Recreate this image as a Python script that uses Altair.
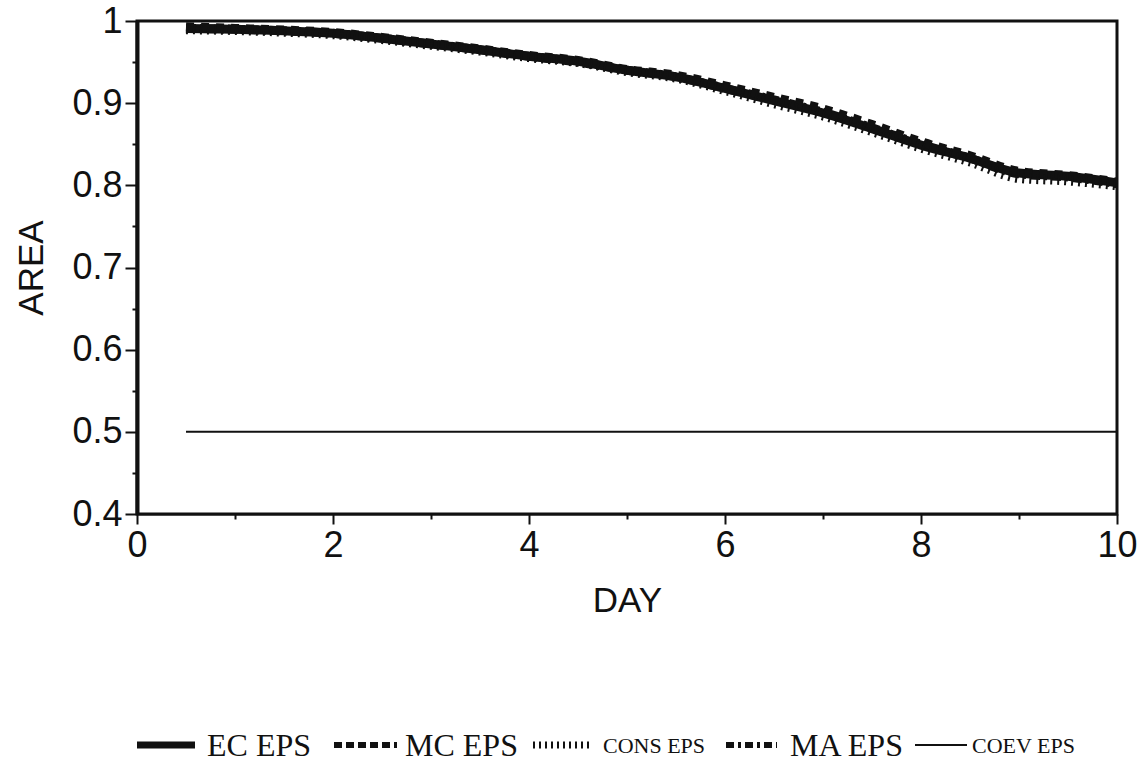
import altair as alt
import pandas as pd

# Forecast area over the 10-day range for each ensemble method
day = [0.5, 1.0, 1.5, 2.0, 2.5, 3.0, 3.5, 4.0, 4.5, 5.0,
       5.5, 6.0, 6.5, 7.0, 7.5, 8.0, 8.5, 9.0, 9.5, 10.0]
ec_eps = [0.991, 0.990, 0.988, 0.985, 0.979, 0.972, 0.965, 0.957, 0.951, 0.940,
          0.932, 0.918, 0.903, 0.888, 0.869, 0.849, 0.833, 0.815, 0.811, 0.803]
mc_eps = [0.993, 0.991, 0.989, 0.986, 0.980, 0.973, 0.966, 0.958, 0.952, 0.941,
          0.934, 0.921, 0.907, 0.893, 0.874, 0.853, 0.836, 0.817, 0.812, 0.804]
cons_eps = [0.990, 0.989, 0.987, 0.984, 0.978, 0.971, 0.964, 0.956, 0.950, 0.939,
            0.931, 0.916, 0.900, 0.885, 0.866, 0.846, 0.829, 0.809, 0.806, 0.800]
ma_eps = [0.991, 0.990, 0.988, 0.985, 0.979, 0.972, 0.965, 0.957, 0.950, 0.940,
          0.932, 0.918, 0.904, 0.889, 0.870, 0.850, 0.833, 0.814, 0.810, 0.802]
coev_day = [0.5, 10.0]
coev_eps = [0.5, 0.5]

INK = "#111111"

x_scale = alt.Scale(domain=[0, 10], nice=False)
y_scale = alt.Scale(domain=[0.4, 1.0], nice=False, zero=False)

x_axis = alt.Axis(
    title="DAY",
    values=list(range(0, 11)),
    labelExpr="datum.value % 2 == 0 ? datum.label : ''",
    tickSize={"condition": {"test": "datum.value % 2 == 0", "value": 10}, "value": 5},
    tickWidth=2,
    tickColor=INK,
    domainColor=INK,
    domainWidth=2,
    labelFont="Liberation Sans",
    labelFontSize=36,
    labelColor=INK,
    labelPadding=4,
    labelFlush=False,
    titleFont="Liberation Sans",
    titleFontSize=35,
    titleFontWeight="normal",
    titleColor=INK,
    titlePadding=20,
    grid=False,
)

y_axis = alt.Axis(
    title="AREA",
    values=[0.4, 0.45, 0.5, 0.55, 0.6, 0.65, 0.7, 0.75, 0.8, 0.85, 0.9, 0.95, 1.0],
    labelExpr=(
        "round(datum.value * 100) % 10 == 0 ? "
        "(datum.value == 1 ? '1' : format(datum.value, '.1f')) : ''"
    ),
    tickSize={"condition": {"test": "round(datum.value * 100) % 10 == 0", "value": 12},
              "value": 5},
    tickWidth=2,
    tickColor=INK,
    domainColor=INK,
    domainWidth=4,
    labelFont="Liberation Sans",
    labelFontSize=36,
    labelColor=INK,
    labelPadding=3,
    labelFlush=False,
    titleFont="Liberation Sans",
    titleFontSize=35,
    titleFontWeight="normal",
    titleColor=INK,
    titlePadding=22,
    grid=False,
)


def series_frame(xs, ys):
    return pd.DataFrame({"day": xs, "area": ys})


def curve(xs, ys, width, dash=None):
    kwargs = dict(color=INK, strokeWidth=width, interpolate="monotone")
    if dash:
        kwargs["strokeDash"] = dash
    return alt.Chart(series_frame(xs, ys)).mark_line(**kwargs).encode(
        x=alt.X("day:Q", scale=x_scale, axis=x_axis),
        y=alt.Y("area:Q", scale=y_scale, axis=y_axis),
    )


lines = [
    curve(coev_day, coev_eps, 2),
    curve(day, ec_eps, 9),
    curve(day, ma_eps, 9, dash=[10, 4, 3, 4]),
    curve(day, mc_eps, 9, dash=[8, 7]),
    curve(day, cons_eps, 10, dash=[2, 5]),
]

# Hand-built legend row beneath the plot (pixel offsets from the plot origin)
legend_entries = [
    # label, swatch start, swatch end, swatch width, dash, text start, font size
    ("EC EPS", 0, 58, 7, None, 70, 32),
    ("MC EPS", 197, 260, 6, [8, 4], 268, 32),
    ("CONS EPS", 396, 453, 7, [2, 4], 466, 22),
    ("MA EPS", 589, 640, 6, [8, 4, 3, 4], 653, 32),
    ("COEV EPS", 778, 830, 2, None, 835, 22),
]
LEGEND_Y = 724

legend_layers = []
for label, x0, x1, sw, dash, tx, fs in legend_entries:
    one = pd.DataFrame({"label": [label]})
    rule_kwargs = dict(color=INK, strokeWidth=sw)
    if dash:
        rule_kwargs["strokeDash"] = dash
    legend_layers.append(
        alt.Chart(one).mark_rule(**rule_kwargs).encode(
            x=alt.value(x0), x2=alt.value(x1), y=alt.value(LEGEND_Y)
        )
    )
    legend_layers.append(
        alt.Chart(one).mark_text(
            align="left", baseline="middle", font="Liberation Serif",
            fontSize=fs, color=INK
        ).encode(text="label:N", x=alt.value(tx), y=alt.value(LEGEND_Y + 1))
    )

chart = alt.layer(*lines, *legend_layers).properties(
    width=980,
    height=493,
    padding={"left": 137, "top": 21, "right": 28, "bottom": 249},
    autosize=alt.AutoSizeParams(type="none"),
    background="white",
).configure_view(
    stroke=INK,
    strokeWidth=3,
)

chart.save("out.html", embed_options={"renderer": "svg", "actions": False})
